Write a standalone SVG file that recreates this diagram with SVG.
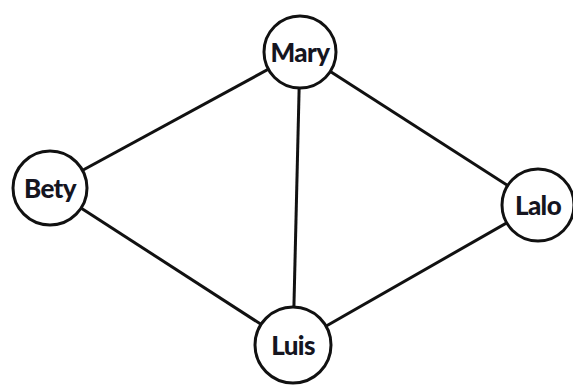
<svg xmlns="http://www.w3.org/2000/svg" width="573" height="386" viewBox="0 0 573 386">
  <style>
    .edge { stroke: #111; stroke-width: 3; fill: none; }
    .node circle { fill: #fff; stroke: #111; stroke-width: 3; }
    .node text { font-family: Lato, "Open Sans", sans-serif; font-weight: 900; font-size: 26px; fill: #15151f; text-anchor: middle; dominant-baseline: central; letter-spacing: -0.6px; }
  </style>
  <rect width="573" height="386" fill="#fff"/>
  <g id="connectors">
    <line class="edge" x1="300" y1="52" x2="50" y2="188"/>
    <line class="edge" x1="300" y1="52" x2="293" y2="345"/>
    <line class="edge" x1="300" y1="52" x2="538" y2="205"/>
    <line class="edge" x1="50" y1="188" x2="293" y2="345"/>
    <line class="edge" x1="538" y1="205" x2="293" y2="345"/>
  </g>
  <g id="mary" class="node">
    <circle cx="300" cy="52" r="36"/>
    <text x="300" y="52">Mary</text>
  </g>
  <g id="bety" class="node">
    <circle cx="50" cy="188" r="37"/>
    <text x="50" y="188">Bety</text>
  </g>
  <g id="lalo" class="node">
    <circle cx="538" cy="205" r="36"/>
    <text x="538" y="205">Lalo</text>
  </g>
  <g id="luis" class="node">
    <circle cx="293" cy="345" r="38"/>
    <text x="293" y="345">Luis</text>
  </g>
</svg>
